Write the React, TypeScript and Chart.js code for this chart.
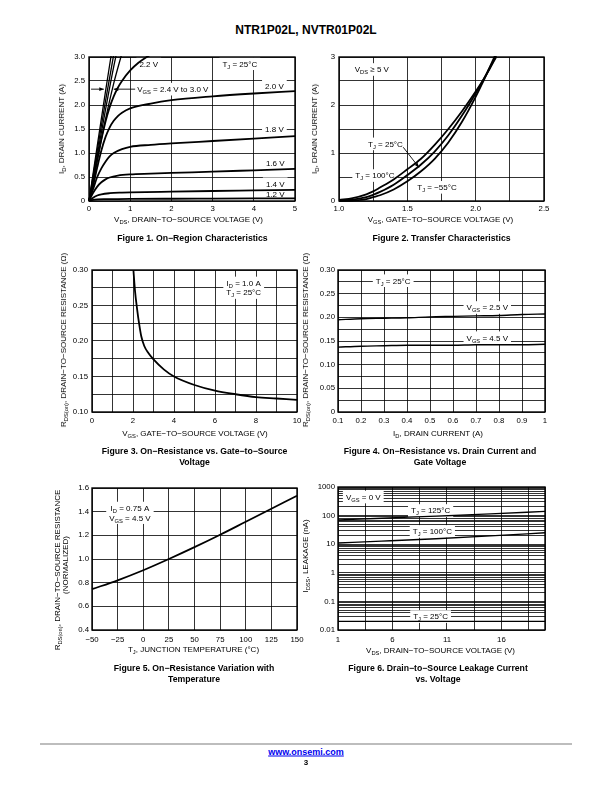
import React, { useEffect, useRef } from "react";
import { Chart, registerables } from "chart.js";

Chart.register(...registerables);

const FONT = "'Liberation Sans', Arial, Helvetica, sans-serif";
const INK = "#000";
Chart.defaults.font.family = FONT;

// ---------------- Figure 1: On-Region Characteristics ----------------
const fig1XGrid = [0, 1, 2, 3, 4, 5];
const fig1XLabels = ["0", "1", "2", "3", "4", "5"];
const fig1YGrid = [0, 0.5, 1, 1.5, 2, 2.5, 3];
const fig1YLabels = ["0", "0.5", "1.0", "1.5", "2.0", "2.5", "3.0"];
const fig1Vds12 = [0, 0.1, 0.2, 0.4, 0.7, 1, 2, 3, 4, 5];
const fig1Id12 = [0, 0.022, 0.032, 0.038, 0.041, 0.043, 0.047, 0.05, 0.053, 0.056];
const fig1Vds14 = [0, 0.1, 0.2, 0.3, 0.5, 0.8, 1, 2, 3, 4, 5];
const fig1Id14 = [0, 0.07, 0.115, 0.14, 0.162, 0.175, 0.18, 0.195, 0.208, 0.22, 0.232];
const fig1Vds16 = [0, 0.1, 0.2, 0.3, 0.4, 0.5, 0.7, 1, 1.5, 2, 3, 4, 5];
const fig1Id16 = [0, 0.17, 0.3, 0.39, 0.45, 0.49, 0.53, 0.555, 0.57, 0.585, 0.61, 0.64, 0.67];
const fig1Vds18 = [0, 0.1, 0.2, 0.3, 0.4, 0.5, 0.6, 0.8, 1, 1.5, 2, 3, 4, 5];
const fig1Id18 = [0, 0.25, 0.5, 0.68, 0.82, 0.93, 1.0, 1.08, 1.13, 1.17, 1.2, 1.25, 1.3, 1.35];
const fig1Vds20 = [0, 0.1, 0.2, 0.3, 0.4, 0.5, 0.6, 0.7, 0.8, 1, 1.5, 2, 3, 4, 5];
const fig1Id20 = [0, 0.32, 0.7, 1.05, 1.33, 1.53, 1.67, 1.77, 1.84, 1.93, 2.03, 2.1, 2.18, 2.24, 2.29];
const fig1Vds22 = [0, 0.1, 0.2, 0.3, 0.4, 0.5, 0.6, 0.7, 0.8, 1, 1.2, 1.4, 1.6];
const fig1Id22 = [0, 0.4, 0.85, 1.28, 1.65, 1.95, 2.18, 2.36, 2.5, 2.72, 2.88, 3.0, 3.1];
const fig1Vds24 = [0, 0.2, 0.4, 0.6, 0.8];
const fig1Id24 = [0, 0.85, 1.7, 2.45, 3.08];
const fig1Vds26 = [0, 0.2, 0.4, 0.6, 0.7];
const fig1Id26 = [0, 0.95, 1.9, 2.8, 3.2];
const fig1Vds28 = [0, 0.2, 0.4, 0.6];
const fig1Id28 = [0, 1.05, 2.08, 3.05];
const fig1Vds30 = [0, 0.2, 0.4, 0.55];
const fig1Id30 = [0, 1.15, 2.28, 3.1];

// ---------------- Figure 2: Transfer Characteristics ----------------
const fig2XGrid = [1, 1.25, 1.5, 1.75, 2, 2.25, 2.5];
const fig2XLabels = ["1.0", "", "1.5", "", "2.0", "", "2.5"];
const fig2YGrid = [0, 0.5, 1, 1.5, 2, 2.5, 3];
const fig2YLabels = ["0", "", "1", "", "2", "", "3"];
const fig2Vgs = [1.0, 1.1, 1.2, 1.25, 1.3, 1.4, 1.5, 1.6, 1.7, 1.8, 1.9, 2.0, 2.05, 2.1, 2.15];
const fig2Id100 = [0.02, 0.06, 0.14, 0.2, 0.28, 0.45, 0.66, 0.88, 1.17, 1.5, 1.87, 2.28, 2.5, 2.74, 3.0];
const fig2Id25 = [0.01, 0.03, 0.08, 0.13, 0.19, 0.34, 0.54, 0.76, 1.03, 1.37, 1.78, 2.24, 2.49, 2.76, 3.03];
const fig2IdM55 = [0.0, 0.01, 0.04, 0.08, 0.12, 0.24, 0.41, 0.62, 0.88, 1.22, 1.65, 2.17, 2.46, 2.77, 3.08];

// ---------------- Figure 3: RDS(on) vs VGS ----------------
const fig3XGrid = [0, 1, 2, 3, 4, 5, 6, 7, 8, 9, 10];
const fig3XLabels = ["0", "", "2", "", "4", "", "6", "", "8", "", "10"];
const fig3YGrid = [0.1, 0.125, 0.15, 0.175, 0.2, 0.225, 0.25, 0.275, 0.3];
const fig3YLabels = ["0.10", "", "0.15", "", "0.20", "", "0.25", "", "0.30"];
const fig3Vgs = [2.02, 2.1, 2.2, 2.3, 2.4, 2.55, 2.75, 3, 3.5, 4, 5, 6, 7, 8, 9, 10];
const fig3Rds = [0.3, 0.27, 0.245, 0.224, 0.207, 0.193, 0.183, 0.174, 0.16, 0.15, 0.138, 0.13, 0.125, 0.121, 0.119, 0.117];

// ---------------- Figure 4: RDS(on) vs ID ----------------
const fig4XGrid = [0.1, 0.2, 0.3, 0.4, 0.5, 0.6, 0.7, 0.8, 0.9, 1];
const fig4XLabels = ["0.1", "0.2", "0.3", "0.4", "0.5", "0.6", "0.7", "0.8", "0.9", "1"];
const fig4YGrid = [0, 0.025, 0.05, 0.075, 0.1, 0.125, 0.15, 0.175, 0.2, 0.225, 0.25, 0.275, 0.3];
const fig4YLabels = ["0", "", "0.05", "", "0.10", "", "0.15", "", "0.20", "", "0.25", "", "0.30"];
const fig4Id = [0.1, 0.2, 0.3, 0.4, 0.5, 0.6, 0.7, 0.8, 0.9, 1.0];
const fig4Rds25 = [0.195, 0.197, 0.198, 0.199, 0.201, 0.202, 0.203, 0.204, 0.206, 0.207];
const fig4Rds45 = [0.137, 0.139, 0.14, 0.141, 0.141, 0.141, 0.142, 0.142, 0.142, 0.143];

// ---------------- Figure 5: RDS(on) vs Temperature ----------------
const fig5XGrid = [-50, -25, 0, 25, 50, 75, 100, 125, 150];
const fig5XLabels = ["\u221250", "\u221225", "0", "25", "50", "75", "100", "125", "150"];
const fig5YGrid = [0.4, 0.6, 0.8, 1.0, 1.2, 1.4, 1.6];
const fig5YLabels = ["0.4", "0.6", "0.8", "1.0", "1.2", "1.4", "1.6"];
const fig5Tj = [-50, -25, 0, 25, 50, 75, 100, 125, 150];
const fig5Rn = [0.745, 0.82, 0.905, 1.0, 1.1, 1.205, 1.315, 1.425, 1.535];

// ---------------- Figure 6: Leakage vs VDS ----------------
const fig6XGrid = [1, 3.5, 6, 8.5, 11, 13.5, 16, 18.5, 20];
const fig6XLabels = ["1", "", "6", "", "11", "", "16", "", ""];
const fig6Decades = [0.01, 0.1, 1, 10, 100];
const fig6DecadeLabels = ["0.01", "0.1", "1", "10", "100"];
const fig6Steps = [1, 2, 3, 4, 5, 6, 7, 8, 9];
const fig6Top = 1000;
const fig6TopLabel = "1000";
const fig6Vds = [1, 5, 10, 15, 20];
const fig6I125 = [70, 81, 96, 115, 140];
const fig6I100 = [11, 12.8, 15.6, 19.5, 25];
const fig6I25 = [0.02, 0.02, 0.02, 0.02, 0.02];

const fig6YGrid = [...fig6Decades.flatMap((d) => fig6Steps.map((m) => +(d * m).toPrecision(3))), fig6Top];
const fig6YLabels = [...fig6DecadeLabels.flatMap((lab) => fig6Steps.map((m) => (m === 1 ? lab : ""))), fig6TopLabel];

// ---------------- helpers ----------------
type Seg = { t: string; sub: boolean };
function parseRich(s: string): Seg[] {
  const out: Seg[] = [];
  const re = /_\{([^}]*)\}/g;
  let last = 0;
  let m: RegExpExecArray | null;
  while ((m = re.exec(s))) {
    if (m.index > last) out.push({ t: s.slice(last, m.index), sub: false });
    out.push({ t: m[1], sub: true });
    last = re.lastIndex;
  }
  if (last < s.length) out.push({ t: s.slice(last), sub: false });
  return out;
}

const SUB = 0.72;
function richWidth(ctx: CanvasRenderingContext2D, s: string, size: number) {
  let w = 0;
  for (const g of parseRich(s)) {
    ctx.font = `${g.sub ? size * SUB : size}px ${FONT}`;
    w += ctx.measureText(g.t).width;
  }
  return w;
}
function drawRich(ctx: CanvasRenderingContext2D, s: string, x: number, y: number, size: number, align: string) {
  const w = richWidth(ctx, s, size);
  let cx = align === "left" ? x : x - w / 2;
  const base = y + size * 0.36;
  for (const g of parseRich(s)) {
    ctx.font = `${g.sub ? size * SUB : size}px ${FONT}`;
    ctx.fillText(g.t, cx, g.sub ? base + size * 0.25 : base);
    cx += ctx.measureText(g.t).width;
  }
}

type Axis = { min: number; max: number; grid: number[]; labels: string[]; pad: number; log?: boolean };
type Series = { xs: number[]; ys: number[]; width?: number };
type Note = { x: number; y: number; lines: string[]; align?: string };
type Arrow = { x1: number; y1: number; x2: number; y2: number };
type Frame = { L: number; T: number; R: number; B: number };
type Spec = { frame: Frame; x: Axis; y: Axis; series: Series[]; notes: Note[]; arrows?: Arrow[] };

const PT = 6, PR = 9, YW = 34, XH = 16;
const NOTE_SIZE = 8;

const notesPlugin = {
  id: "notes",
  beforeDatasetsDraw(chart: any, _a: any, opts: any) {
    const { ctx, chartArea: ca } = chart;
    const xs = chart.scales.x, ys = chart.scales.y;
    ctx.save();
    ctx.beginPath();
    ctx.rect(ca.left, ca.top, ca.right - ca.left, ca.bottom - ca.top);
    ctx.clip();
    ctx.textBaseline = "alphabetic";
    ctx.textAlign = "left";
    for (const n of (opts.notes || []) as Note[]) {
      const px = xs.getPixelForValue(n.x), py = ys.getPixelForValue(n.y);
      const lh = NOTE_SIZE * 1.2;
      const w = Math.max(...n.lines.map((l) => richWidth(ctx, l, NOTE_SIZE)));
      const h = lh * n.lines.length;
      const left = n.align === "left" ? px : px - w / 2;
      ctx.fillStyle = "#fff";
      ctx.fillRect(left - 3, py - h / 2 - 1.5, w + 6, h + 3);
      ctx.fillStyle = INK;
      n.lines.forEach((l, i) => {
        drawRich(ctx, l, px, py - h / 2 + lh * (i + 0.5), NOTE_SIZE, n.align === "left" ? "left" : "center");
      });
    }
    for (const a of (opts.arrows || []) as Arrow[]) {
      const x1 = xs.getPixelForValue(a.x1), y1 = ys.getPixelForValue(a.y1);
      const x2 = xs.getPixelForValue(a.x2), y2 = ys.getPixelForValue(a.y2);
      ctx.strokeStyle = INK;
      ctx.fillStyle = INK;
      ctx.lineWidth = 0.9;
      ctx.beginPath();
      ctx.moveTo(x1, y1);
      ctx.lineTo(x2, y2);
      ctx.stroke();
      const ang = Math.atan2(y2 - y1, x2 - x1);
      const L = 4.5, W = 1.8;
      const c = Math.cos(ang), s = Math.sin(ang);
      ctx.beginPath();
      ctx.moveTo(x2, y2);
      ctx.lineTo(x2 - L * c + W * s, y2 - L * s - W * c);
      ctx.lineTo(x2 - L * c - W * s, y2 - L * s + W * c);
      ctx.closePath();
      ctx.fill();
    }
    ctx.restore();
  },
  afterDatasetsDraw(chart: any) {
    const { ctx, chartArea: ca } = chart;
    ctx.save();
    ctx.strokeStyle = INK;
    ctx.lineWidth = 1.4;
    ctx.strokeRect(ca.left, ca.top, ca.right - ca.left, ca.bottom - ca.top);
    ctx.restore();
  },
};

function axisOptions(a: Axis, dir: "x" | "y") {
  return {
    type: a.log ? "logarithmic" : "linear",
    min: a.min,
    max: a.max,
    afterBuildTicks: (s: any) => {
      s.ticks = a.grid.map((v) => ({ value: v }));
    },
    afterFit: (s: any) => {
      if (dir === "x") s.height = XH;
      else s.width = YW;
      s.paddingLeft = 0;
      s.paddingRight = 0;
      s.paddingTop = 0;
      s.paddingBottom = 0;
    },
    grid: { color: INK, lineWidth: 0.8, drawTicks: false },
    border: { display: false },
    ticks: {
      autoSkip: false,
      maxRotation: 0,
      minRotation: 0,
      padding: a.pad,
      color: INK,
      font: { family: FONT, size: 7.8 },
      callback: (_v: any, i: number) => a.labels[i] ?? "",
    },
  };
}

function Plot({ spec }: { spec: Spec }) {
  const ref = useRef<HTMLCanvasElement>(null);
  const { L, T, R, B } = spec.frame;
  const cw = R - L + YW + PR;
  const ch = B - T + PT + XH;
  useEffect(() => {
    const chart = new Chart(ref.current as HTMLCanvasElement, {
      type: "scatter",
      data: {
        datasets: spec.series.map((s) => ({
          data: s.xs.map((x, i) => ({ x, y: s.ys[i] })),
          showLine: true,
          pointRadius: 0,
          borderColor: INK,
          backgroundColor: INK,
          borderWidth: s.width ?? 1.8,
          cubicInterpolationMode: "monotone",
          fill: false,
          clip: 1,
        })),
      },
      options: {
        responsive: false,
        animation: false,
        events: [],
        layout: { padding: { left: 0, top: PT, right: PR, bottom: 0 } },
        plugins: {
          legend: { display: false },
          tooltip: { enabled: false },
          notes: { notes: spec.notes, arrows: spec.arrows || [] },
        } as any,
        scales: { x: axisOptions(spec.x, "x"), y: axisOptions(spec.y, "y") } as any,
      },
      plugins: [notesPlugin as any],
    } as any);
    return () => chart.destroy();
  }, [spec]);
  return (
    <canvas
      ref={ref}
      width={cw}
      height={ch}
      style={{ position: "absolute", left: L - YW, top: T - PT, width: cw, height: ch }}
    />
  );
}

const S = (xs: number[], ys: number[], width?: number): Series => ({ xs, ys, width });

const spec1: Spec = {
  frame: { L: 89, T: 57, R: 295, B: 201 },
  x: { min: 0, max: 5, grid: fig1XGrid, labels: fig1XLabels, pad: 3 },
  y: { min: 0, max: 3, grid: fig1YGrid, labels: fig1YLabels, pad: 4 },
  series: [
    S(fig1Vds12, fig1Id12), S(fig1Vds14, fig1Id14), S(fig1Vds16, fig1Id16), S(fig1Vds18, fig1Id18),
    S(fig1Vds20, fig1Id20), S(fig1Vds22, fig1Id22), S(fig1Vds24, fig1Id24, 1.3), S(fig1Vds26, fig1Id26, 1.3),
    S(fig1Vds28, fig1Id28, 1.3), S(fig1Vds30, fig1Id30, 1.3),
  ],
  notes: [
    { x: 1.45, y: 2.86, lines: ["2.2 V"] },
    { x: 3.66, y: 2.86, lines: ["T_{J} = 25\u00B0C"] },
    { x: 4.5, y: 2.4, lines: ["2.0 V"] },
    { x: 4.5, y: 1.5, lines: ["1.8 V"] },
    { x: 4.52, y: 0.79, lines: ["1.6 V"] },
    { x: 4.52, y: 0.36, lines: ["1.4 V"] },
    { x: 4.52, y: 0.14, lines: ["1.2 V"] },
    { x: 1.17, y: 2.33, lines: ["V_{GS} = 2.4 V to 3.0 V"], align: "left" },
  ],
  arrows: [
    { x1: 0.05, y1: 2.33, x2: 0.36, y2: 2.33 },
    { x1: 1.12, y1: 2.33, x2: 0.6, y2: 2.33 },
  ],
};

const spec2: Spec = {
  frame: { L: 339, T: 57, R: 544, B: 201 },
  x: { min: 1, max: 2.5, grid: fig2XGrid, labels: fig2XLabels, pad: 3 },
  y: { min: 0, max: 3, grid: fig2YGrid, labels: fig2YLabels, pad: 4 },
  series: [S(fig2Vgs, fig2Id100), S(fig2Vgs, fig2Id25), S(fig2Vgs, fig2IdM55)],
  notes: [
    { x: 1.24, y: 2.74, lines: ["V_{DS} \u2265 5 V"] },
    { x: 1.34, y: 1.19, lines: ["T_{J} = 25\u00B0C"] },
    { x: 1.263, y: 0.53, lines: ["T_{J} = 100\u00B0C"] },
    { x: 1.717, y: 0.285, lines: ["T_{J} = \u221255\u00B0C"] },
  ],
  arrows: [{ x1: 1.47, y1: 1.12, x2: 1.585, y2: 0.7 }],
};

const spec3: Spec = {
  frame: { L: 92, T: 270, R: 297, B: 412 },
  x: { min: 0, max: 10, grid: fig3XGrid, labels: fig3XLabels, pad: 4 },
  y: { min: 0.1, max: 0.3, grid: fig3YGrid, labels: fig3YLabels, pad: 4 },
  series: [S(fig3Vgs, fig3Rds)],
  notes: [{ x: 7.4, y: 0.275, lines: ["I_{D} = 1.0 A", "T_{J} = 25\u00B0C"] }],
};

const spec4: Spec = {
  frame: { L: 338, T: 270, R: 545, B: 412 },
  x: { min: 0.1, max: 1, grid: fig4XGrid, labels: fig4XLabels, pad: 4 },
  y: { min: 0, max: 0.3, grid: fig4YGrid, labels: fig4YLabels, pad: 3 },
  series: [S(fig4Id, fig4Rds25, 1.4), S(fig4Id, fig4Rds45, 1.4)],
  notes: [
    { x: 0.34, y: 0.2774, lines: ["T_{J} = 25\u00B0C"] },
    { x: 0.749, y: 0.2208, lines: ["V_{GS} = 2.5 V"] },
    { x: 0.749, y: 0.157, lines: ["V_{GS} = 4.5 V"] },
  ],
};

const spec5: Spec = {
  frame: { L: 92, T: 488, R: 297, B: 630 },
  x: { min: -50, max: 150, grid: fig5XGrid, labels: fig5XLabels, pad: 5 },
  y: { min: 0.4, max: 1.6, grid: fig5YGrid, labels: fig5YLabels, pad: 3 },
  series: [S(fig5Tj, fig5Rn)],
  notes: [{ x: -13, y: 1.39, lines: ["I_{D} = 0.75 A", "V_{GS} = 4.5 V"] }],
};

const spec6: Spec = {
  frame: { L: 338, T: 487, R: 545, B: 630 },
  x: { min: 1, max: 20, grid: fig6XGrid, labels: fig6XLabels, pad: 5 },
  y: { min: 0.01, max: 1000, grid: fig6YGrid, labels: fig6YLabels, pad: 3, log: true },
  series: [S(fig6Vds, fig6I125, 1.4), S(fig6Vds, fig6I100, 1.4), S(fig6Vds, fig6I25, 1.4)],
  notes: [
    { x: 3.32, y: 446, lines: ["V_{GS} = 0 V"] },
    { x: 9.5, y: 151, lines: ["T_{J} = 125\u00B0C"] },
    { x: 9.66, y: 28, lines: ["T_{J} = 100\u00B0C"] },
    { x: 9.5, y: 0.0295, lines: ["T_{J} = 25\u00B0C"] },
  ],
};

function RichText({ s }: { s: string }) {
  return (
    <>
      {parseRich(s).map((g, i) =>
        g.sub ? (
          <span key={i} style={{ fontSize: `${SUB}em`, position: "relative", top: "0.3em" }}>
            {g.t}
          </span>
        ) : (
          <span key={i}>{g.t}</span>
        )
      )}
    </>
  );
}

function Label(props: { x: number; y: number; s: string; size?: number; bold?: boolean; rotate?: boolean; color?: string; underline?: boolean }) {
  const { x, y, s, size = 8, bold = false, rotate = false, color = INK, underline = false } = props;
  return (
    <div
      style={{
        position: "absolute",
        left: x,
        top: y,
        transform: `translate(-50%,-50%)${rotate ? " rotate(-90deg)" : ""}`,
        whiteSpace: "nowrap",
        fontFamily: FONT,
        fontSize: size,
        fontWeight: bold ? 700 : 400,
        lineHeight: 1,
        color,
        textDecoration: underline ? "underline" : "none",
      }}
    >
      <RichText s={s} />
    </div>
  );
}

const CAP = 8.7;
const DASH = "\u2212";
const RDS = `R_{DS(on)}, DRAIN${DASH}TO${DASH}SOURCE RESISTANCE`;
const VDS_TITLE = `V_{DS}, DRAIN${DASH}TO${DASH}SOURCE VOLTAGE (V)`;
const VGS_TITLE = `V_{GS}, GATE${DASH}TO${DASH}SOURCE VOLTAGE (V)`;

export default function App() {
  return (
    <div style={{ position: "absolute", left: 0, top: 0, width: 612, height: 792, background: "#fff", overflow: "hidden" }}>
      <Label x={306} y={30} s={"NTR1P02L, NVTR01P02L"} size={12} bold />

      <Plot spec={spec1} />
      <Label x={61.5} y={129} s={"I_{D}, DRAIN CURRENT (A)"} rotate />
      <Label x={188.5} y={220} s={VDS_TITLE} />
      <Label x={192.5} y={238} s={`Figure 1. On${DASH}Region Characteristics`} size={CAP} bold />

      <Plot spec={spec2} />
      <Label x={314.5} y={129} s={"I_{D}, DRAIN CURRENT (A)"} rotate />
      <Label x={440.5} y={220} s={VGS_TITLE} />
      <Label x={441.5} y={238} s={"Figure 2. Transfer Characteristics"} size={CAP} bold />

      <Plot spec={spec3} />
      <Label x={63.5} y={340} s={`${RDS} (\u03A9)`} rotate />
      <Label x={195} y={434} s={VGS_TITLE} />
      <Label x={194.5} y={451} s={`Figure 3. On${DASH}Resistance vs. Gate${DASH}to${DASH}Source`} size={CAP} bold />
      <Label x={194.5} y={462} s={"Voltage"} size={CAP} bold />

      <Plot spec={spec4} />
      <Label x={305.5} y={340} s={`${RDS} (\u03A9)`} rotate />
      <Label x={438} y={434} s={"I_{D}, DRAIN CURRENT (A)"} />
      <Label x={440} y={451} s={`Figure 4. On${DASH}Resistance vs. Drain Current and`} size={CAP} bold />
      <Label x={440} y={462} s={"Gate Voltage"} size={CAP} bold />

      <Plot spec={spec5} />
      <Label x={58} y={570} s={RDS} rotate />
      <Label x={65.5} y={565} s={"(NORMALIZED)"} rotate />
      <Label x={193.5} y={650} s={"T_{J}, JUNCTION TEMPERATURE (\u00B0C)"} />
      <Label x={194} y={668} s={`Figure 5. On${DASH}Resistance Variation with`} size={CAP} bold />
      <Label x={194} y={679} s={"Temperature"} size={CAP} bold />

      <Plot spec={spec6} />
      <Label x={305.5} y={556} s={"I_{DSS}, LEAKAGE (nA)"} rotate />
      <Label x={440.5} y={651} s={VDS_TITLE} />
      <Label x={438} y={668} s={`Figure 6. Drain${DASH}to${DASH}Source Leakage Current`} size={CAP} bold />
      <Label x={438} y={679} s={"vs. Voltage"} size={CAP} bold />

      <div style={{ position: "absolute", left: 40, top: 743, width: 532, height: 2, background: "#bdbdbd" }} />
      <Label x={306} y={752} s={"www.onsemi.com"} size={9} bold color="#0000ee" underline />
      <Label x={306} y={763} s={"3"} size={8} bold />
    </div>
  );
}
